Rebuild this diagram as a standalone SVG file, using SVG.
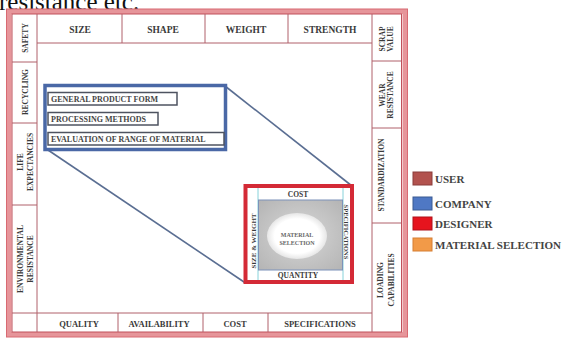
<svg xmlns="http://www.w3.org/2000/svg" width="564" height="338" viewBox="0 0 564 338">
<defs>
<style>
.txt{font-family:"Liberation Serif","Times New Roman",serif;font-weight:bold;fill:#3a3a3a;text-anchor:middle}
.top{font-size:9.5px}
.bot{font-size:8.5px}
.side{font-size:7.5px}
.grid{stroke:#b0606a;stroke-width:1;fill:none}
.ibox{fill:#fff;stroke:#4e5360;stroke-width:1.5}
.itxt{font-family:"Liberation Serif","Times New Roman",serif;font-weight:bold;font-size:8px;fill:#454545}
.leg{font-family:"Liberation Serif","Times New Roman",serif;font-weight:bold;font-size:11px;fill:#444}
.conn{stroke:#5a6e92;stroke-width:1.6;fill:none}
</style>
<radialGradient id="gr" cx="0.5" cy="0.5" r="0.7">
<stop offset="0" stop-color="#d8d8d8"/>
<stop offset="1" stop-color="#b4b4b4"/>
</radialGradient>
<radialGradient id="el" cx="0.5" cy="0.5" r="0.5">
<stop offset="0.75" stop-color="#ffffff"/>
<stop offset="1" stop-color="#e6e6e6"/>
</radialGradient>
</defs>
<rect width="564" height="338" fill="#fff"/>
<text x="-1" y="9.5" font-family="Liberation Serif, serif" font-size="25" fill="#111">resistance etc.</text>

<g id="frame">
<rect x="9" y="11.5" width="396" height="323" fill="none" stroke="#e6959a" stroke-width="5"/>
<rect x="6.5" y="9" width="401" height="328" fill="none" stroke="#d86a72" stroke-width="1"/>
<rect x="12" y="14" width="389.5" height="318" fill="none" stroke="#c0505a" stroke-width="1"/>
<path class="grid" d="M37 14V332M372 14V332M37 43H372M37 313H372M12 313H37"/>
</g>

<g id="top-row">
<path class="grid" d="M122 14V43M205 14V43M288 14V43"/>
<text class="txt top" x="80" y="33">SIZE</text>
<text class="txt top" x="163" y="33">SHAPE</text>
<text class="txt top" x="246" y="33">WEIGHT</text>
<text class="txt top" x="330" y="33">STRENGTH</text>
</g>

<g id="bottom-row">
<path class="grid" d="M118 313V332M203 313V332M268 313V332"/>
<text class="txt bot" x="79" y="327">QUALITY</text>
<text class="txt bot" x="159" y="327">AVAILABILITY</text>
<text class="txt bot" x="235" y="327">COST</text>
<text class="txt bot" x="320" y="327">SPECIFICATIONS</text>
</g>

<g id="left-column">
<path class="grid" d="M12 62H37M12 123H37M12 205H37"/>
<text class="txt side" transform="translate(28,38) rotate(-90)">SAFETY</text>
<text class="txt side" transform="translate(28,92) rotate(-90)">RECYCLING</text>
<text class="txt side" transform="translate(23,162) rotate(-90)"><tspan x="0" dy="0">LIFE</tspan><tspan x="0" dy="9.5">EXPECTANCIES</tspan></text>
<text class="txt side" transform="translate(23,259) rotate(-90)"><tspan x="0" dy="0">ENVIRONMENTAL</tspan><tspan x="0" dy="10">RESISTANCE</tspan></text>
</g>

<g id="right-column">
<path class="grid" d="M372 61H401M372 128H401M372 223H401"/>
<text class="txt side" transform="translate(385,39) rotate(-90)"><tspan x="0" dy="0">SCRAP</tspan><tspan x="0" dy="7.5">VALUE</tspan></text>
<text class="txt side" transform="translate(385,95) rotate(-90)"><tspan x="0" dy="0">WEAR</tspan><tspan x="0" dy="8">RESISTANCE</tspan></text>
<text class="txt side" transform="translate(384,175) rotate(-90)">STANDARDIZATION</text>
<text class="txt side" transform="translate(383,280) rotate(-90)"><tspan x="0" dy="0">LOADING</tspan><tspan x="0" dy="11">CAPABILITIES</tspan></text>
</g>

<g id="connectors">
<line class="conn" x1="45" y1="148" x2="245.5" y2="283"/>
<line class="conn" x1="225" y1="86" x2="352" y2="186"/>
</g>

<g id="company-box">
<rect x="45" y="85.5" width="180.5" height="64" fill="#fff" stroke="#4a68a6" stroke-width="3.5"/>
<rect class="ibox" x="48" y="92.5" width="129" height="12.5"/>
<text class="itxt" x="51" y="101.8">GENERAL PRODUCT FORM</text>
<rect class="ibox" x="48" y="112.5" width="110" height="12.5"/>
<text class="itxt" x="51" y="121.8">PROCESSING METHODS</text>
<rect class="ibox" x="48" y="132.5" width="176" height="12.5"/>
<text class="itxt" x="51" y="141.8">EVALUATION OF RANGE OF MATERIAL</text>
</g>

<g id="designer-box">
<rect x="245.5" y="186" width="106.5" height="96" fill="#fff" stroke="#d42a36" stroke-width="4"/>
<path d="M258 188V280M343 188V280" stroke="#86d2da" stroke-width="1"/>
<text class="txt" font-size="7.5" x="298" y="197">COST</text>
<text class="txt" font-size="7.5" x="298" y="278">QUANTITY</text>
<text class="txt" font-size="7" transform="translate(256,241) rotate(-90)">SIZE &amp; WEIGHT</text>
<text class="txt" font-size="6.5" transform="translate(344,232) rotate(90)">SPECIFICATIONS</text>
</g>

<g id="material-selection">
<rect x="258.5" y="200" width="84" height="70" fill="url(#gr)" stroke="#7c92ba" stroke-width="1"/>
<ellipse cx="297" cy="236" rx="30" ry="23" fill="url(#el)"/>
<text class="txt" font-size="6" style="fill:#666" x="297" y="237">MATERIAL</text>
<text class="txt" font-size="6" style="fill:#666" x="297" y="245">SELECTION</text>
</g>

<g id="legend">
<rect x="413" y="172" width="19" height="13" fill="#b2524e" stroke="#8a3c3a"/>
<text class="leg" x="435" y="182.5">USER</text>
<rect x="413" y="197" width="19" height="13" fill="#4f78c4" stroke="#3a5a92"/>
<text class="leg" x="435" y="207.5">COMPANY</text>
<rect x="413" y="217" width="19" height="13" fill="#e6141e" stroke="#b01018"/>
<text class="leg" x="435" y="227.5">DESIGNER</text>
<rect x="413" y="238" width="19" height="13" fill="#f29a48" stroke="#d67e32"/>
<text class="leg" x="435" y="248.5">MATERIAL SELECTION</text>
</g>
</svg>
